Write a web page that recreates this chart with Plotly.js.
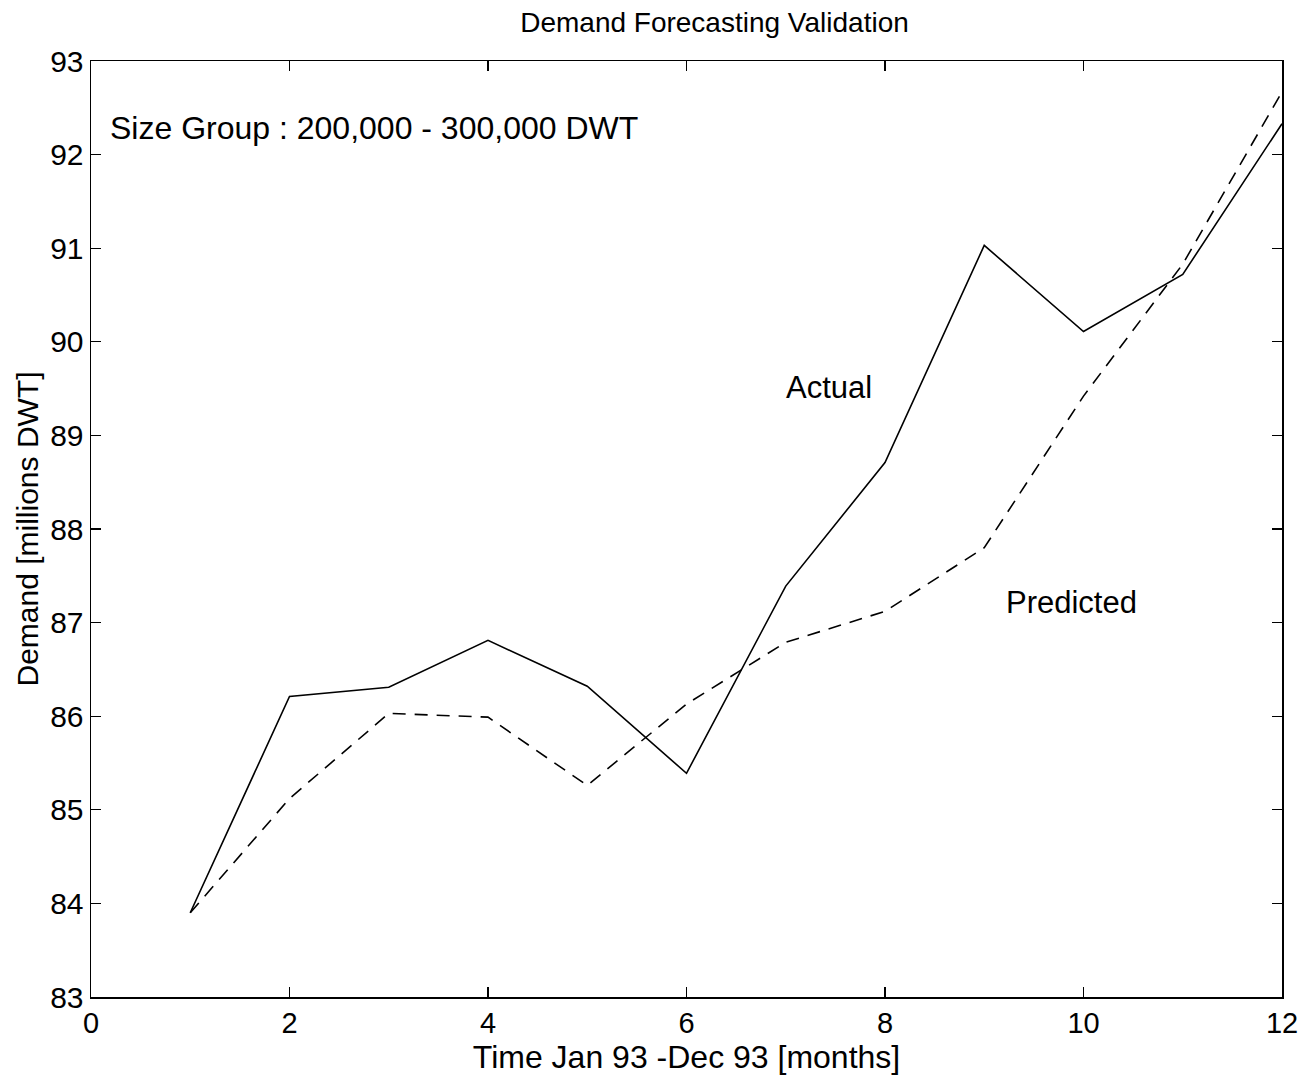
<!DOCTYPE html>
<html>
<head>
<meta charset="utf-8">
<script src="https://cdn.plot.ly/plotly-3.0.1.min.js"></script>
<style>html,body{margin:0;padding:0;background:#fff;}#chart{width:1311px;height:1080px;}</style>
</head>
<body>
<div id="chart"></div>
<script>
const months = [1,2,3,4,5,6,7,8,9,10,11,12];
const actual = [83.90,86.21,86.31,86.81,86.32,85.39,87.39,88.71,91.03,90.11,90.72,92.33];
const predicted = [83.90,85.12,86.03,85.99,85.26,86.13,86.79,87.12,87.80,89.42,90.83,92.67];
const xTicks = [0,2,4,6,8,10,12];
const yTicks = [83,84,85,86,87,88,89,90,91,92,93];

const font = 'Liberation Sans, Arial, Helvetica, sans-serif';
const narrow = 'Liberation Sans Narrow, Arial Narrow, Liberation Sans, sans-serif';

const traces = [
  {x: months, y: actual, mode: 'lines', name: 'Actual',
   line: {color: '#000', width: 1.6}},
  {x: months, y: predicted, mode: 'lines', name: 'Predicted',
   line: {color: '#000', width: 1.6, dash: '13px,9px'}}
];

const axisCommon = {
  showgrid: false, zeroline: false, showline: true, linecolor: '#000', linewidth: 1.5,
  mirror: 'ticks', ticks: 'inside', ticklen: 10, tickwidth: 1.3, tickcolor: '#000'
};

const layout = {
  width: 1311, height: 1080,
  margin: {l: 91, r: 29, t: 61, b: 83},
  paper_bgcolor: '#fff', plot_bgcolor: '#fff',
  showlegend: false,
  title: {text: 'Demand Forecasting Validation', font: {family: font, size: 28, color: '#000'},
          x: 0.545, xanchor: 'center', y: 0.979, yanchor: 'middle'},
  xaxis: Object.assign({}, axisCommon, {
    range: [0, 12], tickvals: xTicks, ticktext: xTicks.map(String),
    tickfont: {family: font, size: 29, color: '#000'},
    title: {text: 'Time Jan 93 -Dec 93 [months]', font: {family: narrow, size: 32, color: '#000'}, standoff: 0}
  }),
  yaxis: Object.assign({}, axisCommon, {
    range: [83, 93], tickvals: yTicks, ticktext: yTicks.map(String),
    tickfont: {family: font, size: 30, color: '#000'},
    title: {text: 'Demand [millions DWT]', font: {family: narrow, size: 30, color: '#000'}, standoff: 2}
  }),
  annotations: [
    {x: 0.17, y: 92.28, xref: 'x', yref: 'y', xanchor: 'left', yanchor: 'middle', showarrow: false,
     text: 'Size Group : 200,000 - 300,000 DWT', font: {family: font, size: 32, color: '#000'}},
    {x: 7.44, y: 89.51, xref: 'x', yref: 'y', xanchor: 'center', yanchor: 'middle', showarrow: false,
     text: 'Actual', font: {family: font, size: 31, color: '#000'}},
    {x: 9.88, y: 87.21, xref: 'x', yref: 'y', xanchor: 'center', yanchor: 'middle', showarrow: false,
     text: 'Predicted', font: {family: font, size: 31, color: '#000'}}
  ]
};

Plotly.newPlot('chart', traces, layout, {displayModeBar: false, staticPlot: true});
</script>
</body>
</html>
